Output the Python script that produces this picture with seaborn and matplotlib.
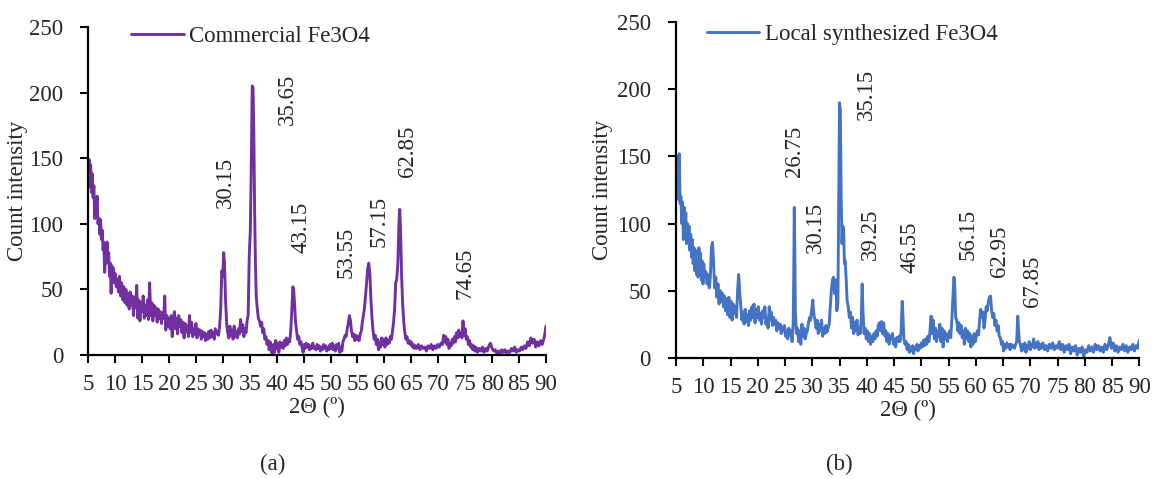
import matplotlib
matplotlib.use("Agg")
import matplotlib.pyplot as plt
import seaborn as sns
import pandas as pd

# ---- panel (a): commercial Fe3O4 ----
theta_a = [5.0, 5.15, 5.3, 5.45, 5.6, 5.75, 5.9, 6.05, 6.2, 6.35, 6.5, 6.65, 6.8, 7.0, 7.15, 7.3, 7.45, 7.6, 7.75, 7.9,
           8.05, 8.2, 8.35, 8.5, 8.65, 8.8, 8.95, 9.1, 9.25, 9.4, 9.55, 9.7, 9.85, 10.0, 10.2, 10.4, 10.6, 10.8, 11.0, 11.2,
           11.4, 11.6, 11.8, 12.0, 12.2, 12.4, 12.6, 12.8, 13.0, 13.2, 13.4, 13.6, 13.8, 14.0, 14.2, 14.4, 14.6, 14.8, 15.0, 15.2,
           15.4, 15.6, 15.8, 16.0, 16.2, 16.4, 16.6, 16.8, 17.0, 17.2, 17.4, 17.6, 17.8, 18.0, 18.2, 18.4, 18.6, 18.8, 19.0, 19.2,
           19.4, 19.6, 19.8, 20.0, 20.2, 20.4, 20.6, 20.8, 21.0, 21.2, 21.4, 21.6, 21.8, 22.0, 22.2, 22.4, 22.6, 22.8, 23.0, 23.2,
           23.4, 23.6, 23.8, 24.0, 24.2, 24.4, 24.6, 24.8, 25.0, 25.2, 25.4, 25.6, 25.8, 26.0, 26.2, 26.4, 26.6, 26.8, 27.0, 27.2,
           27.4, 27.6, 27.8, 28.0, 28.2, 28.4, 28.6, 28.8, 29.0, 29.2, 29.4, 29.6, 29.8, 30.0, 30.15, 30.3, 30.5, 30.7, 30.9, 31.1,
           31.3, 31.5, 31.7, 31.9, 32.1, 32.3, 32.5, 32.7, 32.9, 33.1, 33.3, 33.5, 33.7, 33.9, 34.1, 34.3, 34.5, 34.7, 34.9, 35.1,
           35.3, 35.45, 35.6, 35.75, 35.9, 36.05, 36.2, 36.4, 36.6, 36.8, 37.0, 37.2, 37.4, 37.6, 37.8, 38.0, 38.2, 38.4, 38.6, 38.8,
           39.0, 39.2, 39.4, 39.6, 39.8, 40.0, 40.2, 40.4, 40.6, 40.8, 41.0, 41.2, 41.4, 41.6, 41.8, 42.0, 42.2, 42.4, 42.6, 42.8,
           43.0, 43.15, 43.3, 43.5, 43.7, 43.9, 44.1, 44.3, 44.5, 44.7, 44.9, 45.1, 45.3, 45.5, 45.7, 45.9, 46.1, 46.3, 46.5, 46.7,
           46.9, 47.1, 47.3, 47.5, 47.7, 47.9, 48.1, 48.3, 48.5, 48.7, 48.9, 49.1, 49.3, 49.5, 49.7, 49.9, 50.1, 50.3, 50.5, 50.7,
           50.9, 51.1, 51.3, 51.5, 51.7, 51.9, 52.1, 52.3, 52.5, 52.7, 52.9, 53.1, 53.3, 53.5, 53.7, 53.9, 54.1, 54.3, 54.5, 54.7,
           54.9, 55.1, 55.3, 55.5, 55.7, 55.9, 56.1, 56.3, 56.5, 56.7, 56.9, 57.1, 57.3, 57.5, 57.7, 57.9, 58.1, 58.3, 58.5, 58.7,
           58.9, 59.1, 59.3, 59.5, 59.7, 59.9, 60.1, 60.3, 60.5, 60.7, 60.9, 61.1, 61.3, 61.5, 61.7, 61.9, 62.1, 62.3, 62.5, 62.7,
           62.85, 63.0, 63.2, 63.4, 63.6, 63.8, 64.0, 64.2, 64.4, 64.6, 64.8, 65.0, 65.2, 65.4, 65.6, 65.8, 66.0, 66.3, 66.6, 66.9,
           67.2, 67.5, 67.8, 68.1, 68.4, 68.7, 69.0, 69.3, 69.6, 69.9, 70.2, 70.5, 70.8, 71.0, 71.2, 71.4, 71.6, 71.8, 72.0, 72.2,
           72.4, 72.6, 72.8, 73.0, 73.2, 73.4, 73.6, 73.8, 74.0, 74.2, 74.4, 74.6, 74.8, 75.0, 75.2, 75.4, 75.6, 75.8, 76.0, 76.2,
           76.4, 76.6, 76.8, 77.0, 77.3, 77.6, 77.9, 78.2, 78.5, 78.8, 79.1, 79.4, 79.7, 80.0, 80.3, 80.6, 80.9, 81.2, 81.5, 81.8,
           82.1, 82.4, 82.7, 83.0, 83.3, 83.6, 83.9, 84.2, 84.5, 84.8, 85.1, 85.4, 85.7, 86.0, 86.3, 86.6, 86.9, 87.2, 87.5, 87.8,
           88.1, 88.4, 88.7, 89.0, 89.3, 89.6, 89.8, 90.0]
count_a = [140, 149, 128, 145, 124, 138, 120, 129, 104, 118, 110, 121, 100, 104, 92, 103, 88, 95, 80, 86,
           63, 82, 70, 86, 72, 78, 60, 70, 47, 68, 58, 66, 55, 62, 52, 58, 48, 60, 45, 55,
           42, 52, 40, 50, 38, 47, 35, 48, 38, 45, 30, 44, 36, 53, 28, 42, 26, 40, 33, 45,
           28, 38, 30, 42, 27, 55, 30, 40, 26, 38, 30, 36, 25, 35, 28, 33, 24, 32, 28, 45,
           19, 30, 22, 28, 20, 30, 14, 27, 33, 20, 28, 16, 30, 22, 27, 17, 25, 13, 24, 18,
           22, 14, 30, 17, 25, 14, 20, 16, 24, 13, 20, 16, 19, 12, 18, 14, 17, 11, 16, 12,
           18, 13, 19, 14, 17, 12, 20, 16, 18, 15, 22, 35, 64, 60, 78, 70, 42, 24, 17, 13,
           22, 15, 19, 12, 22, 14, 18, 13, 20, 16, 27, 18, 23, 14, 20, 17, 26, 30, 75, 95,
           150, 205, 204, 170, 110, 70, 45, 35, 28, 26, 22, 25, 17, 20, 12, 14, 8, 11, 4, 10,
           3, 0, 8, 2, 11, 5, 9, 2, 10, 6, 9, 5, 11, 7, 13, 8, 12, 10, 18, 33,
           52, 50, 40, 25, 18, 12, 14, 8, 10, 6, 2, 8, 5, 9, 6, 8, 4, 7, 5, 9,
           5, 6, 4, 8, 5, 7, 3, 6, 4, 8, 5, 7, 3, 6, 4, 8, 5, 9, 4, 7,
           3, 8, 5, 9, 2, 6, 3, 10, 12, 15, 14, 20, 24, 30, 26, 18, 14, 16, 11, 15,
           12, 14, 11, 16, 18, 25, 30, 36, 45, 55, 66, 70, 62, 42, 28, 18, 12, 15, 8, 12,
           4, 10, 6, 13, 8, 12, 6, 13, 8, 11, 9, 14, 12, 18, 25, 35, 55, 58, 70, 100,
           111, 95, 60, 38, 25, 17, 12, 14, 9, 11, 8, 10, 6, 8, 5, 7, 5, 8, 4, 7,
           5, 6, 3, 7, 5, 8, 4, 7, 5, 8, 6, 9, 8, 15, 10, 14, 8, 12, 5, 9,
           7, 12, 9, 14, 10, 17, 13, 19, 14, 17, 13, 26, 15, 20, 12, 14, 8, 11, 6, 8,
           4, 7, 3, 6, 2, 5, 3, 6, 2, 5, 3, 7, 9, 5, 3, 4, 1, 3, 1, 4,
           2, 4, 1, 3, 2, 5, 3, 6, 2, 4, 3, 6, 4, 7, 5, 10, 7, 13, 9, 12,
           6, 10, 7, 11, 8, 12, 16, 22]

# ---- panel (b): local synthesized Fe3O4 ----
theta_b = [5.0, 5.15, 5.3, 5.45, 5.6, 5.75, 5.9, 6.05, 6.2, 6.35, 6.5, 6.65, 6.8, 6.95, 7.1, 7.25, 7.4, 7.55, 7.7, 7.85,
           8.0, 8.15, 8.3, 8.45, 8.6, 8.75, 8.9, 9.05, 9.2, 9.35, 9.5, 9.65, 9.8, 9.95, 10.1, 10.3, 10.5, 10.7, 10.9, 11.1,
           11.3, 11.5, 11.7, 11.9, 12.1, 12.3, 12.5, 12.7, 12.9, 13.1, 13.3, 13.5, 13.7, 13.9, 14.1, 14.3, 14.5, 14.7, 14.9, 15.1,
           15.3, 15.5, 15.7, 15.9, 16.1, 16.3, 16.5, 16.7, 16.9, 17.1, 17.3, 17.5, 17.7, 17.9, 18.1, 18.3, 18.5, 18.7, 18.9, 19.1,
           19.3, 19.5, 19.7, 19.9, 20.1, 20.3, 20.5, 20.7, 20.9, 21.1, 21.3, 21.5, 21.7, 21.9, 22.1, 22.3, 22.5, 22.7, 22.9, 23.1,
           23.3, 23.5, 23.7, 23.9, 24.1, 24.3, 24.5, 24.7, 24.9, 25.1, 25.3, 25.5, 25.7, 25.9, 26.1, 26.3, 26.5, 26.6, 26.7, 26.8,
           26.9, 27.1, 27.3, 27.5, 27.7, 27.9, 28.1, 28.3, 28.5, 28.7, 28.9, 29.1, 29.3, 29.5, 29.7, 29.9, 30.1, 30.3, 30.5, 30.7,
           30.9, 31.1, 31.3, 31.5, 31.7, 31.9, 32.1, 32.3, 32.5, 32.7, 32.9, 33.1, 33.3, 33.5, 33.7, 33.9, 34.1, 34.3, 34.5, 34.7,
           34.85, 35.0, 35.15, 35.3, 35.45, 35.6, 35.75, 35.9, 36.05, 36.2, 36.4, 36.6, 36.8, 37.0, 37.2, 37.4, 37.6, 37.8, 38.0, 38.2,
           38.4, 38.6, 38.8, 39.0, 39.15, 39.3, 39.5, 39.7, 39.9, 40.1, 40.3, 40.5, 40.7, 40.9, 41.1, 41.3, 41.5, 41.7, 41.9, 42.1,
           42.3, 42.5, 42.7, 42.9, 43.1, 43.3, 43.5, 43.7, 43.9, 44.1, 44.3, 44.5, 44.7, 44.9, 45.1, 45.3, 45.5, 45.7, 45.9, 46.1,
           46.3, 46.5, 46.65, 46.8, 47.0, 47.2, 47.4, 47.6, 47.8, 48.0, 48.2, 48.4, 48.6, 48.8, 49.0, 49.2, 49.4, 49.6, 49.8, 50.0,
           50.2, 50.4, 50.6, 50.8, 51.0, 51.2, 51.4, 51.6, 51.8, 52.0, 52.2, 52.4, 52.6, 52.8, 53.0, 53.2, 53.4, 53.6, 53.8, 54.0,
           54.2, 54.4, 54.6, 54.8, 55.0, 55.2, 55.4, 55.6, 55.8, 56.0, 56.15, 56.3, 56.5, 56.7, 56.9, 57.1, 57.3, 57.5, 57.7, 57.9,
           58.1, 58.3, 58.5, 58.7, 58.9, 59.1, 59.3, 59.5, 59.7, 59.9, 60.1, 60.3, 60.5, 60.7, 60.9, 61.1, 61.3, 61.5, 61.7, 61.9,
           62.1, 62.3, 62.5, 62.7, 62.9, 63.1, 63.3, 63.5, 63.7, 63.9, 64.1, 64.3, 64.5, 64.7, 64.9, 65.1, 65.3, 65.5, 65.7, 65.9,
           66.1, 66.3, 66.5, 66.7, 66.9, 67.1, 67.3, 67.5, 67.7, 67.85, 68.0, 68.2, 68.4, 68.6, 68.8, 69.0, 69.2, 69.4, 69.6, 69.8,
           70.0, 70.2, 70.4, 70.6, 70.8, 71.0, 71.2, 71.4, 71.6, 71.8, 72.0, 72.3, 72.6, 72.9, 73.2, 73.5, 73.8, 74.1, 74.4, 74.7,
           75.0, 75.3, 75.6, 75.9, 76.2, 76.5, 76.8, 77.1, 77.4, 77.7, 78.0, 78.3, 78.6, 78.9, 79.2, 79.5, 79.8, 80.1, 80.4, 80.7,
           81.0, 81.3, 81.6, 81.9, 82.2, 82.5, 82.8, 83.1, 83.4, 83.7, 84.0, 84.3, 84.6, 84.9, 85.2, 85.5, 85.8, 86.1, 86.4, 86.7,
           87.0, 87.3, 87.6, 87.9, 88.2, 88.5, 88.8, 89.1, 89.4, 89.7, 90.0]
count_b = [140, 128, 150, 118, 152, 115, 120, 100, 116, 88, 112, 95, 108, 85, 100, 90, 98, 80, 92, 75,
           88, 70, 82, 65, 80, 62, 76, 60, 82, 62, 78, 58, 72, 55, 70, 60, 64, 55, 62, 52,
           60, 82, 86, 70, 52, 60, 45, 55, 40, 50, 42, 48, 38, 46, 35, 44, 32, 45, 30, 42,
           28, 40, 33, 38, 30, 50, 62, 48, 38, 28, 34, 25, 36, 27, 32, 24, 35, 28, 38, 30,
           40, 26, 36, 30, 38, 28, 33, 25, 35, 30, 38, 25, 30, 22, 38, 28, 34, 24, 30, 25,
           28, 20, 26, 22, 25, 18, 23, 20, 24, 16, 20, 14, 22, 17, 20, 12, 25, 60, 112, 80,
           35, 18, 22, 12, 20, 10, 25, 16, 22, 14, 18, 20, 26, 30, 28, 36, 43, 32, 28, 22,
           28, 18, 25, 20, 28, 16, 22, 18, 24, 19, 22, 25, 38, 50, 58, 60, 48, 58, 35, 40,
           120, 190, 185, 120, 85, 98, 96, 70, 72, 60, 42, 38, 30, 34, 22, 30, 18, 26, 20, 28,
           17, 22, 18, 30, 55, 35, 18, 22, 14, 20, 12, 18, 10, 16, 12, 18, 14, 20, 16, 24,
           26, 20, 27, 18, 26, 16, 20, 12, 18, 10, 16, 14, 18, 10, 14, 8, 15, 12, 16, 12,
           20, 42, 30, 14, 10, 12, 6, 10, 4, 8, 5, 9, 3, 8, 6, 10, 5, 9, 7, 11,
           8, 13, 9, 14, 10, 16, 12, 20, 31, 18, 28, 14, 22, 12, 20, 16, 25, 12, 22, 8,
           20, 14, 18, 12, 16, 20, 15, 28, 45, 60, 52, 30, 28, 20, 26, 18, 24, 15, 20, 10,
           22, 14, 20, 12, 18, 8, 16, 10, 18, 12, 16, 20, 17, 28, 36, 30, 34, 22, 28, 38,
           35, 42, 45, 46, 35, 30, 33, 24, 28, 20, 24, 16, 15, 10, 12, 5, 10, 7, 11, 8,
           10, 6, 10, 8, 9, 7, 10, 12, 31, 20, 12, 9, 5, 10, 6, 11, 4, 9, 7, 12,
           6, 10, 8, 14, 7, 11, 8, 12, 6, 10, 7, 11, 6, 9, 5, 10, 7, 11, 6, 9,
           7, 12, 6, 10, 4, 9, 6, 10, 3, 8, 5, 9, 2, 7, 4, 8, 1, 6, 4, 9,
           5, 8, 4, 10, 6, 9, 5, 8, 4, 10, 6, 9, 15, 7, 11, 5, 9, 4, 8, 6,
           10, 5, 9, 4, 8, 6, 10, 5, 9, 7, 13]

# peak annotations: (label, x position, y of label base)
peaks_a = ["30.15", "35.65", "43.15", "53.55", "57.15", "62.85", "74.65"]
peaks_a_x = [30.4, 41.9, 44.5, 52.9, 59.0, 64.2, 75.0]
peaks_a_y = [112, 175, 78, 59, 82, 136, 43]
peaks_b = ["26.75", "30.15", "35.15", "39.25", "46.55", "56.15", "62.95", "67.85"]
peaks_b_x = [26.8, 30.5, 40.0, 40.7, 47.9, 58.6, 64.4, 70.4]
peaks_b_y = [135, 78, 177, 73, 63, 73, 60, 38]

sns.set_style("ticks")
plt.rcParams['font.family'] = ['Liberation Serif', 'DejaVu Serif']
fs = 16.5

fig = plt.figure(figsize=(11.52, 4.79), dpi=100)
ax1 = fig.add_axes([0.0766, 0.2589, 0.3973, 0.6848])
ax2 = fig.add_axes([0.5868, 0.2532, 0.4022, 0.7004])

panels = [
    (ax1, theta_a, count_a, "#7030A0", "Commercial Fe3O4", peaks_a, peaks_a_x, peaks_a_y, (0.093, 0.97), 1),
    (ax2, theta_b, count_b, "#4472C4", "Local synthesized Fe3O4", peaks_b, peaks_b_x, peaks_b_y, (0.066, 0.962), 3),
]

for ax, xs, ys, col, name, labs, lx, ly, leg_pos, ypad in panels:
    df = pd.DataFrame({"theta": xs, "count": ys})
    sns.lineplot(data=df, x="theta", y="count", ax=ax, color=col, linewidth=2.1,
                 estimator=None, label=name)
    for t, px, py in zip(labs, lx, ly):
        ax.text(px, py, t, rotation=90, ha="center", va="bottom", fontsize=fs)
    ax.set_xlim(5, 90)
    ax.set_ylim(0, 250)
    ax.set_xticks(range(5, 91, 5))
    ax.set_yticks(range(0, 251, 50))
    ax.tick_params(labelsize=fs, width=1.5, length=6, color="black")
    ax.tick_params(axis="x", pad=8)
    ax.tick_params(axis="y", pad=12)
    ax.set_xlabel("2\u0398 (\u00ba)", fontsize=fs, labelpad=1)
    ax.set_ylabel("Count intensity", fontsize=fs, labelpad=ypad)
    for s in ["left", "bottom"]:
        ax.spines[s].set_linewidth(1.6)
        ax.spines[s].set_color("black")
    sns.despine(ax=ax)
    ax.legend(loc="center left", bbox_to_anchor=leg_pos, frameon=False, fontsize=fs,
              handlelength=2.3, handletextpad=0.25, borderpad=0, borderaxespad=0)

fig.text(0.237, 0.031, "(a)", ha="center", va="center", fontsize=fs)
fig.text(0.729, 0.031, "(b)", ha="center", va="center", fontsize=fs)

fig.savefig("out.png", dpi=100)
